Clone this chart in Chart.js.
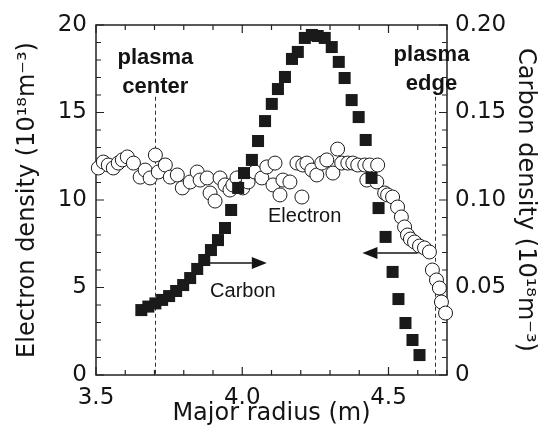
<!DOCTYPE html>
<html><head><meta charset="utf-8">
<script src="https://cdn.jsdelivr.net/npm/chart.js@4/dist/chart.umd.min.js"></script>
<style>html,body{margin:0;padding:0;background:#fff}</style>
</head><body>
<canvas id="c" width="552" height="434"></canvas>
<script>
// ---- data ----
const electronRadius = [3.508,3.525,3.542,3.559,3.576,3.590,3.607,3.628,3.651,3.668,3.685,3.703,3.713,3.737,3.754,3.778,3.795,3.822,3.846,3.856,3.880,3.890,3.907,3.924,3.941,3.958,3.968,3.982,4.002,4.020,4.043,4.067,4.084,4.105,4.112,4.129,4.139,4.163,4.187,4.204,4.207,4.221,4.238,4.255,4.272,4.289,4.310,4.326,4.340,4.361,4.378,4.395,4.419,4.426,4.436,4.460,4.463,4.487,4.497,4.514,4.531,4.544,4.555,4.565,4.575,4.589,4.606,4.623,4.640,4.650,4.664,4.674,4.681,4.695];
const electronDensity = [11.83,12.17,12.0,11.83,12.11,12.29,12.46,12.11,11.31,11.71,11.26,12.57,11.6,12.0,11.31,11.43,10.69,11.03,11.6,11.14,11.26,10.4,9.94,11.26,10.86,10.57,10.86,11.26,10.69,11.03,11.6,11.26,11.89,10.86,12.11,10.29,11.14,11.03,12.11,10.17,12.0,12.11,11.71,11.43,12.11,12.29,11.54,12.91,12.11,12.11,12.11,12.0,12.0,11.14,12.0,11.03,12.0,10.4,10.29,10.17,9.6,9.03,8.46,8.0,7.77,7.6,7.37,7.26,7.03,6.0,5.43,4.97,4.17,3.54];
const carbonRadius = [3.655,3.679,3.703,3.726,3.750,3.774,3.798,3.822,3.846,3.870,3.893,3.917,3.941,3.962,3.986,4.006,4.033,4.054,4.078,4.101,4.122,4.146,4.170,4.190,4.214,4.238,4.258,4.282,4.306,4.330,4.350,4.374,4.398,4.422,4.442,4.466,4.490,4.514,4.534,4.558,4.582,4.606];
const carbonDensity = [0.0371,0.0391,0.0409,0.0429,0.0451,0.048,0.0514,0.0554,0.0606,0.0657,0.0714,0.0771,0.084,0.0943,0.1069,0.1154,0.1229,0.1337,0.1451,0.1549,0.1634,0.1703,0.1806,0.1846,0.1926,0.1943,0.1937,0.1926,0.1874,0.1789,0.1697,0.1571,0.1474,0.1343,0.1126,0.0954,0.0789,0.0589,0.0434,0.0297,0.02,0.0114];
const xTickValues = [3.5, 4.0, 4.5];
const xTickLabels = ['3.5', '4.0', '4.5'];
const leftTickValues = [0, 5, 10, 15, 20];
const leftTickLabels = ['0', '5', '10', '15', '20'];
const rightTickValues = [0, 0.05, 0.10, 0.15, 0.20];
const rightTickLabels = ['0', '0.05', '0.10', '0.15', '0.20'];

// ---- annotations (data units) ----
const markerLines = [3.7, 4.66];
const markerLineTop = 15.9;
const boldLabels = [
  {text: 'plasma', x: 3.703, y: 17.77}, {text: 'center', x: 3.703, y: 16.11},
  {text: 'plasma', x: 4.647, y: 17.94}, {text: 'edge', x: 4.647, y: 16.29}
];
const plainLabels = [
  {text: 'Electron', x: 4.088, y: 8.74}, {text: 'Carbon', x: 3.890, y: 4.46}
];
const arrows = [
  {from: 3.890, to: 4.084, y: 6.4}, {from: 4.599, to: 4.411, y: 6.97}
];

const INK = '#141414';
const TICKFONT = {family: 'DejaVu Sans', size: 23};
const TITLEFONT = {family: 'DejaVu Sans', size: 24};

const deco = {
  id: 'deco',
  beforeDatasetsDraw(chart) {
    const {ctx, chartArea: a, scales: {x, y, y2}} = chart;
    ctx.save();
    ctx.strokeStyle = '#333'; ctx.lineWidth = 1; ctx.setLineDash([4, 3]);
    markerLines.forEach(v => {
      const px = Math.round(x.getPixelForValue(v)) + 0.5;
      ctx.beginPath(); ctx.moveTo(px, y.getPixelForValue(markerLineTop)); ctx.lineTo(px, a.bottom); ctx.stroke();
    });
    ctx.setLineDash([]);
    ctx.strokeStyle = '#222'; ctx.lineWidth = 1.5;
    ctx.strokeRect(a.left, a.top, a.right - a.left, a.bottom - a.top);
    ctx.lineWidth = 1.2;
    ctx.beginPath();
    for (let i = 0; i <= 12; i++) {
      const v = 3.5 + i * 0.1;
      const px = x.getPixelForValue(v);
      const L = (i % 5 === 0) ? 8 : 5;
      ctx.moveTo(px, a.bottom); ctx.lineTo(px, a.bottom - L);
      ctx.moveTo(px, a.top); ctx.lineTo(px, a.top + L);
    }
    for (let i = 0; i <= 20; i++) {
      const py = y.getPixelForValue(i);
      const L = (i % 5 === 0) ? 8 : 5;
      ctx.moveTo(a.left, py); ctx.lineTo(a.left + L, py);
    }
    for (let i = 0; i <= 20; i++) {
      const py = y2.getPixelForValue(i * 0.01);
      const L = (i % 5 === 0) ? 8 : 5;
      ctx.moveTo(a.right, py); ctx.lineTo(a.right - L, py);
    }
    ctx.stroke();
    ctx.restore();
  },
  afterDatasetsDraw(chart) {
    const {ctx, scales: {x, y}} = chart;
    ctx.save();
    ctx.fillStyle = INK; ctx.strokeStyle = INK;
    ctx.font = 'bold 22px "Liberation Sans", Arial, sans-serif';
    ctx.textAlign = 'center'; ctx.textBaseline = 'alphabetic';
    boldLabels.forEach(l => ctx.fillText(l.text, x.getPixelForValue(l.x), y.getPixelForValue(l.y)));
    ctx.font = '20px "Liberation Sans", Arial, sans-serif';
    ctx.textAlign = 'left';
    plainLabels.forEach(l => ctx.fillText(l.text, x.getPixelForValue(l.x), y.getPixelForValue(l.y)));
    ctx.lineWidth = 1.6;
    arrows.forEach(ar => {
      const x0 = x.getPixelForValue(ar.from), x1 = x.getPixelForValue(ar.to), py = y.getPixelForValue(ar.y);
      const dir = Math.sign(x1 - x0), head = 15, hw = 6;
      ctx.beginPath(); ctx.moveTo(x0, py); ctx.lineTo(x1 - dir * head, py); ctx.stroke();
      ctx.beginPath(); ctx.moveTo(x1, py); ctx.lineTo(x1 - dir * head, py - hw); ctx.lineTo(x1 - dir * head, py + hw); ctx.closePath(); ctx.fill();
    });
    ctx.restore();
  }
};

new Chart(document.getElementById('c'), {
  type: 'scatter',
  data: {
    datasets: [
      {label: 'Carbon', data: carbonRadius.map((r, i) => ({x: r, y: carbonDensity[i]})), yAxisID: 'y2',
       pointStyle: 'rect', pointRadius: 8.5, backgroundColor: '#1a1a1a', borderColor: '#1a1a1a', borderWidth: 0, clip: false},
      {label: 'Electron', data: electronRadius.map((r, i) => ({x: r, y: electronDensity[i]})), yAxisID: 'y',
       pointStyle: 'circle', pointRadius: 7, backgroundColor: '#ffffff', borderColor: '#1a1a1a', borderWidth: 1, clip: false}
    ]
  },
  options: {
    responsive: false, animation: false,
    layout: {padding: {top: 25, left: 0, right: 0, bottom: 0}},
    plugins: {legend: {display: false}, tooltip: {enabled: false}},
    scales: {
      x: {
        type: 'linear', min: 3.5, max: 4.7,
        grid: {display: false, drawTicks: false}, border: {display: false},
        afterBuildTicks: s => { s.ticks = xTickValues.map(v => ({value: v})); },
        ticks: {callback: (v, i) => xTickLabels[i], font: TICKFONT, color: INK, padding: 9, maxRotation: 0, autoSkip: false},
        title: {display: true, text: 'Major radius (m)', font: TITLEFONT, color: INK, padding: {top: 0, bottom: 6}},
        afterFit: s => { s.height = 59; }
      },
      y: {
        type: 'linear', position: 'left', min: 0, max: 20,
        grid: {display: false, drawTicks: false}, border: {display: false},
        afterBuildTicks: s => { s.ticks = leftTickValues.map(v => ({value: v})); },
        ticks: {callback: (v, i) => leftTickLabels[i], font: TICKFONT, color: INK, padding: 9, autoSkip: false},
        title: {display: true, text: 'Electron density (10¹⁸m⁻³)', font: TITLEFONT, color: INK, padding: {top: 13, bottom: 0}},
        afterFit: s => { s.width = 96; }
      },
      y2: {
        type: 'linear', position: 'right', min: 0, max: 0.2,
        grid: {display: false, drawTicks: false}, border: {display: false},
        afterBuildTicks: s => { s.ticks = rightTickValues.map(v => ({value: v})); },
        ticks: {callback: (v, i) => rightTickLabels[i], font: TICKFONT, color: INK, padding: 8, autoSkip: false},
        title: {display: true, text: 'Carbon density (10¹⁸m⁻³)', font: TITLEFONT, color: INK, padding: {top: 12, bottom: 0}},
        afterFit: s => { s.width = 105; }
      }
    }
  },
  plugins: [deco]
});
</script>
</body></html>
